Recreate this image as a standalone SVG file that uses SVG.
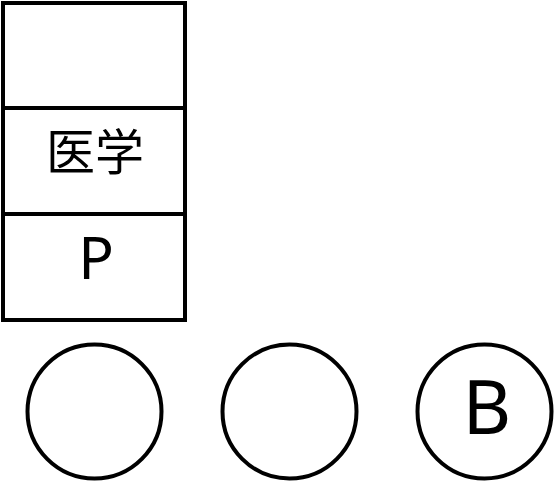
<svg xmlns="http://www.w3.org/2000/svg" width="555" height="482" viewBox="0 0 555 482">
<style>
.s{fill:#fff;stroke:#000;stroke-width:4}
.t{font-family:"Noto Sans","Noto Sans CJK SC",sans-serif;fill:#000;text-anchor:middle}
</style>
<rect width="555" height="482" fill="#fff"/>
<g id="stack">
<g id="cell1"><rect class="s" x="3" y="3" width="182" height="105"/></g>
<g id="cell2"><rect class="s" x="3" y="108" width="182" height="106"/><text class="t" x="95" y="170" font-size="49">医学</text></g>
<g id="cell3"><rect class="s" x="3" y="214" width="182" height="106"/><text class="t" x="96" y="279" font-size="59">P</text></g>
</g>
<g id="n1"><circle class="s" cx="94.5" cy="411.5" r="67"/></g>
<g id="n2"><circle class="s" cx="289.5" cy="411.5" r="67"/></g>
<g id="n3"><circle class="s" cx="484.5" cy="411.5" r="67"/><text class="t" x="487" y="434" font-size="75">B</text></g>
<g id="connectors"></g>
</svg>
